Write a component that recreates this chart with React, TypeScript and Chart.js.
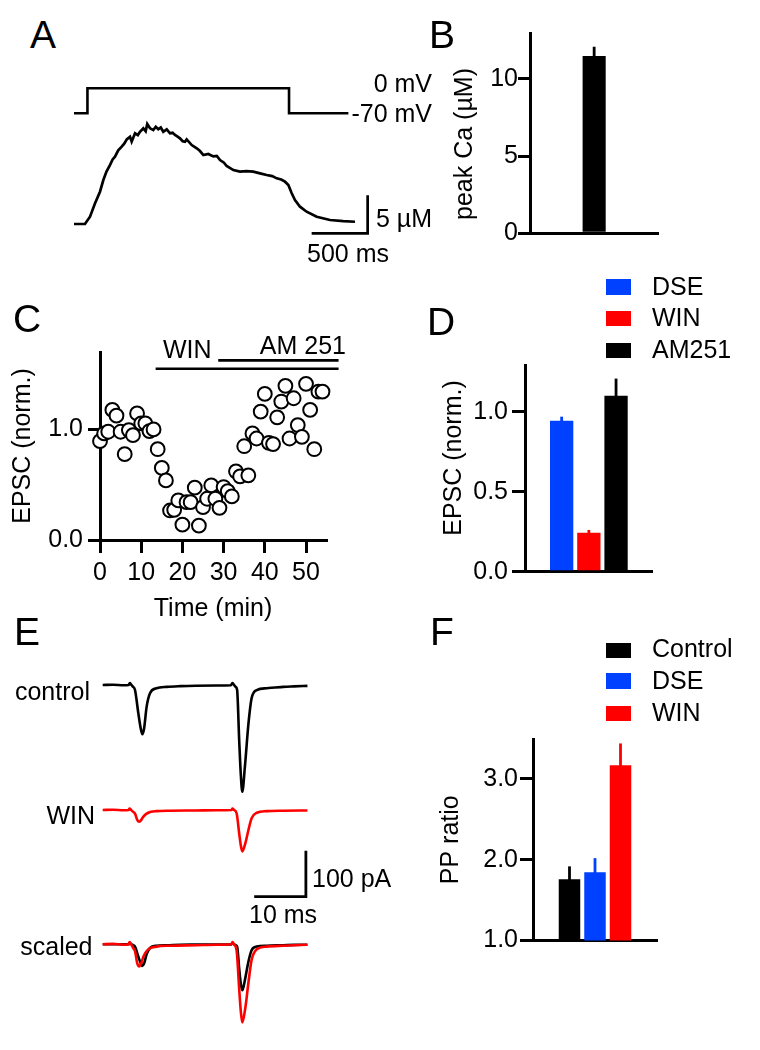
import React, { useEffect, useRef } from 'react';
import { Chart, registerables } from 'chart.js';

Chart.register(...registerables);

const FONT_FAMILY = '"Liberation Sans", Arial, Helvetica, sans-serif';
Chart.defaults.font.family = FONT_FAMILY;
Chart.defaults.font.size = 25;
Chart.defaults.color = '#000';

const BLACK = '#000000';
const BLUE = 'rgb(0, 64, 255)';
const RED = 'rgb(255, 0, 0)';
const AXIS_W = 3;

// ---------------- Panel A : voltage step and Ca transient ----------------
const A_STEP_TIME_MS = [0, 120, 120, 1920, 1920, 2450];
const A_STEP_MV = [-70, -70, 0, 0, -70, -70];
const A_CA_TIME_MS = [
  0, 98, 143, 188, 232, 262, 290, 321, 345, 366,
  395, 426, 450, 471, 500, 515, 545, 570, 589, 619,
  640, 654, 679, 708, 730, 753, 775, 797, 828, 857,
  880, 902, 925, 946, 970, 991, 1006, 1051, 1096, 1125,
  1155, 1199, 1244, 1275, 1304, 1339, 1363, 1423, 1482, 1540,
  1601, 1661, 1720, 1770, 1810, 1850, 1884, 1914, 1944, 1973,
  2018, 2077, 2167, 2286, 2404, 2509,
];
const A_CA_UM = [
  0, 0, 0.96, 2.72, 4.25, 5.79, 6.9, 7.76, 8.5, 8.86,
  9.7, 10.17, 10.6, 11.14, 11.49, 10.83, 11.93, 11.7, 12.14, 12.59,
  12.2, 13.16, 12.59, 12.37, 12.8, 12.46, 12.7, 12.14, 12.46, 11.93,
  12.0, 11.71, 11.5, 11.28, 10.9, 10.83, 11.14, 10.39, 9.96, 9.6,
  9.08, 9.21, 8.9, 8.95, 8.42, 8.07, 7.63, 7.1, 6.89, 6.95,
  6.89, 6.67, 6.45, 6.3, 6.01, 5.85, 5.57, 5.13, 4.04, 3.16,
  2.28, 1.62, 0.96, 0.53, 0.39, 0.3,
];
const A_BAR_MS = 500;
const A_BAR_UM = 5;
const A_BAR_END_MS = 2622;
const A_BAR_BASE_UM = -1.22;

// ---------------- Panel B : peak Ca ----------------
const B_LABELS = ['peak Ca'];
const B_VALUES = [11.49];
const B_ERRORS = [0.6];
const B_TICKS = [0, 5, 10];

// ---------------- Panel C : EPSC time course ----------------
const C_TIME_MIN = [
  0, 1, 2, 3, 4, 5, 6, 7, 8, 9,
  10, 11, 12, 13, 14, 15, 16, 17, 18, 19,
  20, 21, 22, 23, 24, 25, 26, 27, 28, 29,
  30, 31, 32, 33, 34, 35, 36, 37, 38, 39,
  40, 41, 42, 43, 44, 45, 46, 47, 48, 49,
  50, 51, 52, 53, 54,
];
const C_EPSC = [
  0.894, 0.964, 0.979, 1.176, 1.124, 0.979, 0.776, 0.994, 0.948, 1.145,
  1.055, 1.055, 0.985, 1.0, 0.821, 0.652, 0.539, 0.267, 0.273, 0.358,
  0.139, 0.342, 0.342, 0.473, 0.13, 0.297, 0.373, 0.494, 0.373, 0.291,
  0.479, 0.442, 0.394, 0.621, 0.576, 0.848, 0.585, 0.964, 0.918, 1.161,
  1.321, 0.879, 0.867, 1.109, 1.252, 1.394, 0.918, 1.282, 1.039, 0.933,
  1.412, 1.176, 0.821, 1.342, 1.342,
];
const C_BAR_LABELS = ['WIN', 'AM 251'];
const C_BAR_START = [13.5, 28.7];
const C_BAR_END = [57.9, 57.9];
const C_BAR_LEVEL = [1.549, 1.624];
const C_X_TICKS = [0, 10, 20, 30, 40, 50];
const C_Y_TICKS = [0, 1];

// ---------------- Panel D : EPSC bars ----------------
const D_LABELS = ['DSE', 'WIN', 'AM251'];
const D_VALUES = [0.944, 0.244, 1.1];
const D_ERRORS = [0.025, 0.017, 0.107];
const D_COLORS = [BLUE, RED, BLACK];
const D_TICKS = [0, 0.5, 1.0];

// ---------------- Panel E : EPSC traces ----------------
const E_CTRL_T = [
  0, 2, 4, 5.0, 5.25, 5.5, 5.8, 6.25, 6.9, 7.35,
  7.66, 8.0, 8.5, 9.15, 10.4, 12.4, 15, 18, 22, 24.8,
  25.07, 25.35, 25.7, 26.0, 26.4, 26.7, 27.0, 27.5, 28.2, 28.8,
  29.8, 31.7, 34.9, 37, 39.6,
];
const E_CTRL_PA = [
  0, 0.5, -0.5, 0, 4, 1, -3, -11, -62, -94,
  -107, -95, -47, -18, -7, -4, -2.5, -1.5, -1, -0.5,
  4, 1, -4, -11, -120, -192, -232, -178, -83, -29,
  -11, -7, -4, -3, -2,
];
const E_SCALED_CTRL_PA = [
  0, 0.2, -0.2, 0, 2, 0.5, -1.3, -5, -27, -41,
  -47, -42, -21, -8, -3, -2, -1, -0.7, -0.4, -0.2,
  2, 0.5, -2, -5, -53, -85, -100, -78, -37, -13,
  -5, -3, -2, -1.3, -1,
];
const E_WIN_T = [
  0, 2, 4, 5.0, 5.2, 5.5, 5.9, 6.25, 6.7, 7.08,
  7.5, 7.86, 8.8, 10.4, 13, 18, 22, 24.9, 25.1, 25.4,
  25.9, 26.4, 26.7, 27.0, 27.6, 28.2, 28.8, 29.8, 31.7, 35, 39.6,
];
const E_WIN_PA = [
  0, 0.5, -0.5, 0, 3, 0, -4, -8, -22, -25.5,
  -21, -14.5, -6, -2.5, -1.5, -1, -0.5, 0, 3, 0,
  -7, -51, -76, -90, -72, -43, -18, -6, -2.5, -1.5, -1,
];
const E_SCALED_WIN_PA = [
  0, 1, -1, 0, 5, 0, -8, -15, -42, -48,
  -40, -27, -11, -5, -3, -2, -1, 0, 5, 0,
  -13, -97, -144, -170, -137, -82, -34, -11, -5, -3, -1,
];
const E_BAR_MS = 10;
const E_BAR_PA = 100;
const E_BAR_END_MS = 39.3;
const E_BAR_BASE_PA = -188.5;

// ---------------- Panel F : paired-pulse ratio ----------------
const F_LABELS = ['Control', 'DSE', 'WIN'];
const F_VALUES = [1.758, 1.845, 3.17];
const F_ERRORS = [0.16, 0.175, 0.27];
const F_COLORS = [BLACK, BLUE, RED];
const F_TICKS = [1, 2, 3];

// ------------------------------------------------------------------------
const tickFont = { size: 25, family: FONT_FAMILY };

const errorBarPlugin = {
  id: 'errorBars',
  afterDatasetsDraw(chart: any) {
    const ctx = chart.ctx;
    chart.data.datasets.forEach((ds: any, i: number) => {
      if (!ds.errors) return;
      const meta = chart.getDatasetMeta(i);
      const yScale = chart.scales[meta.yAxisID];
      meta.data.forEach((bar: any, j: number) => {
        const v = ds.data[j];
        const e = ds.errors[j];
        const yTop = yScale.getPixelForValue(v + e);
        ctx.save();
        ctx.strokeStyle = ds.backgroundColor;
        ctx.lineWidth = 2.8;
        ctx.beginPath();
        ctx.moveTo(bar.x, bar.y + 1);
        ctx.lineTo(bar.x, yTop);
        ctx.stroke();
        ctx.restore();
      });
    });
  },
};

function leftAxis(p: {
  min: number; max: number; ticks: number[]; fmt: (v: number) => string;
  width: number; tickLen: number; pad: number; title?: any;
}) {
  return {
    type: 'linear',
    position: 'left',
    min: p.min,
    max: p.max,
    afterFit: (s: any) => { s.width = p.width; s.paddingTop = 0; s.paddingBottom = 0; },
    afterBuildTicks: (s: any) => { s.ticks = p.ticks.map((v) => ({ value: v })); },
    ticks: { padding: p.pad, color: BLACK, font: tickFont, autoSkip: false, callback: (v: any) => p.fmt(Number(v)) },
    grid: {
      display: true, drawOnChartArea: false, drawTicks: true, tickLength: p.tickLen,
      tickWidth: AXIS_W, tickColor: BLACK, lineWidth: AXIS_W, color: BLACK,
    },
    border: { display: true, color: BLACK, width: AXIS_W },
    title: p.title || { display: false },
  };
}

function categoryAxis(height: number) {
  return {
    type: 'category',
    position: 'bottom',
    offset: true,
    afterFit: (s: any) => { s.height = height; s.paddingLeft = 0; s.paddingRight = 0; },
    ticks: { display: false },
    grid: { display: false },
    border: { display: true, color: BLACK, width: AXIS_W },
  };
}

const baseOptions = {
  responsive: false,
  animation: false,
  events: [],
  plugins: { legend: { display: false }, tooltip: { enabled: false } },
};

function configA() {
  return {
    type: 'line',
    data: {
      datasets: [
        {
          data: A_STEP_TIME_MS.map((x, i) => ({ x, y: A_STEP_MV[i] })),
          yAxisID: 'yV', borderColor: BLACK, borderWidth: 2.6, pointRadius: 0,
          borderJoinStyle: 'miter', tension: 0,
        },
        {
          data: A_CA_TIME_MS.map((x, i) => ({ x, y: A_CA_UM[i] })),
          yAxisID: 'yCa', borderColor: BLACK, borderWidth: 2.7, pointRadius: 0, tension: 0,
        },
        {
          data: [
            { x: A_BAR_END_MS - A_BAR_MS, y: A_BAR_BASE_UM },
            { x: A_BAR_END_MS, y: A_BAR_BASE_UM },
            { x: A_BAR_END_MS, y: A_BAR_BASE_UM + A_BAR_UM },
          ],
          yAxisID: 'yCa', borderColor: BLACK, borderWidth: 2.7, pointRadius: 0,
          borderJoinStyle: 'miter', tension: 0,
        },
      ],
    },
    options: {
      ...baseOptions,
      layout: { padding: 0, autoPadding: false },
      scales: {
        x: { type: 'linear', display: false, min: -125, max: 3268 },
        yCa: { type: 'linear', display: false, min: -6.05, max: 21.58 },
        yV: { type: 'linear', display: false, min: -508.8, max: 79.2 },
      },
    },
  };
}

function configB() {
  return {
    type: 'bar',
    data: {
      labels: B_LABELS,
      datasets: [
        {
          label: 'peak Ca', data: B_VALUES, errors: B_ERRORS, backgroundColor: BLACK,
          borderWidth: 0, categoryPercentage: 0.9, barPercentage: 0.2,
        },
      ],
    },
    options: {
      ...baseOptions,
      layout: { padding: { top: 23.3, right: 41.7, left: 0, bottom: 0 }, autoPadding: false },
      scales: {
        x: categoryAxis(16.7),
        y: leftAxis({ min: 0, max: 12.96, ticks: B_TICKS, fmt: (v) => String(v), width: 90, tickLen: 12, pad: 0 }),
      },
    },
    plugins: [errorBarPlugin],
  };
}

function configC() {
  const bars = C_BAR_LABELS.map((label, i) => ({
    type: 'line',
    label,
    data: [
      { x: C_BAR_START[i], y: C_BAR_LEVEL[i] },
      { x: C_BAR_END[i], y: C_BAR_LEVEL[i] },
    ],
    showLine: true, borderColor: BLACK, borderWidth: 2.6, pointRadius: 0, clip: false,
  }));
  return {
    type: 'scatter',
    data: {
      datasets: [
        ...bars,
        {
          label: 'EPSC',
          data: C_TIME_MIN.map((x, i) => ({ x, y: C_EPSC[i] })),
          pointRadius: 6.9, borderWidth: 2, backgroundColor: '#ffffff', borderColor: BLACK, clip: false,
        },
      ],
    },
    options: {
      ...baseOptions,
      layout: { padding: { top: 22, right: 54, left: 0, bottom: 0 }, autoPadding: false },
      scales: {
        x: {
          type: 'linear', position: 'bottom', min: 0, max: 54.85,
          afterFit: (s: any) => { s.height = 90; s.paddingLeft = 0; s.paddingRight = 0; },
          afterBuildTicks: (s: any) => { s.ticks = C_X_TICKS.map((v) => ({ value: v })); },
          ticks: { padding: 5, color: BLACK, font: tickFont, maxRotation: 0, autoSkip: false, callback: (v: any) => String(v) },
          grid: {
            display: true, drawOnChartArea: false, drawTicks: true, tickLength: 13,
            tickWidth: AXIS_W, tickColor: BLACK, lineWidth: AXIS_W, color: BLACK,
          },
          border: { display: true, color: BLACK, width: AXIS_W },
          title: { display: true, text: 'Time (min)', color: BLACK, font: tickFont, padding: { top: 0, bottom: 5.5 } },
        },
        y: leftAxis({
          min: 0, max: 1.7, ticks: C_Y_TICKS, fmt: (v) => v.toFixed(1), width: 100, tickLen: 12, pad: 5,
          title: { display: true, text: 'EPSC (norm.)', color: BLACK, font: tickFont, padding: { top: 8, bottom: 0 } },
        }),
      },
    },
  };
}

function configD() {
  return {
    type: 'bar',
    data: {
      labels: [''],
      datasets: D_LABELS.map((label, i) => ({
        label, data: [D_VALUES[i]], errors: [D_ERRORS[i]], backgroundColor: D_COLORS[i],
        borderWidth: 0, categoryPercentage: 0.639, barPercentage: 0.857,
      })),
    },
    options: {
      ...baseOptions,
      layout: { padding: { top: 20, right: 57.3, left: 0, bottom: 0 }, autoPadding: false },
      scales: {
        x: categoryAxis(23.3),
        y: leftAxis({ min: 0, max: 1.292, ticks: D_TICKS, fmt: (v) => v.toFixed(1), width: 95, tickLen: 13, pad: 4 }),
      },
    },
    plugins: [errorBarPlugin],
  };
}

function configE() {
  const trace = (t: number[], v: number[], axis: string, color: string) => ({
    data: t.map((x, i) => ({ x, y: v[i] })),
    yAxisID: axis, borderColor: color, borderWidth: 2.6, pointRadius: 0,
    cubicInterpolationMode: 'monotone',
  });
  // Chart.js paints datasets from last to first: the scaled WIN trace (red)
  // is listed before the scaled control so that it ends up on top.
  return {
    type: 'line',
    data: {
      datasets: [
        trace(E_CTRL_T, E_CTRL_PA, 'yCtrl', BLACK),
        trace(E_WIN_T, E_WIN_PA, 'yWin', RED),
        trace(E_WIN_T, E_SCALED_WIN_PA, 'yScaled', RED),
        trace(E_CTRL_T, E_SCALED_CTRL_PA, 'yScaled', BLACK),
        {
          data: [
            { x: E_BAR_END_MS - E_BAR_MS, y: E_BAR_BASE_PA },
            { x: E_BAR_END_MS, y: E_BAR_BASE_PA },
            { x: E_BAR_END_MS, y: E_BAR_BASE_PA + E_BAR_PA },
          ],
          yAxisID: 'yWin', borderColor: BLACK, borderWidth: 2.8, pointRadius: 0,
          borderJoinStyle: 'miter', tension: 0,
        },
      ],
    },
    options: {
      ...baseOptions,
      layout: { padding: 0, autoPadding: false },
      scales: {
        x: { type: 'linear', display: false, min: -2.456, max: 65.24 },
        yCtrl: { type: 'linear', display: false, min: -771.7, max: 54.35 },
        yWin: { type: 'linear', display: false, min: -500, max: 326.1 },
        yScaled: { type: 'linear', display: false, min: -208, max: 618 },
      },
    },
  };
}

function configF() {
  return {
    type: 'bar',
    data: {
      labels: [''],
      datasets: F_LABELS.map((label, i) => ({
        label, data: [F_VALUES[i]], errors: [F_ERRORS[i]], backgroundColor: F_COLORS[i],
        borderWidth: 0, categoryPercentage: 0.617, barPercentage: 0.843,
      })),
    },
    options: {
      ...baseOptions,
      layout: { padding: { top: 14, right: 53, left: 0, bottom: 0 }, autoPadding: false },
      scales: {
        x: categoryAxis(29.5),
        y: leftAxis({
          min: 1, max: 3.495, ticks: F_TICKS, fmt: (v) => v.toFixed(1), width: 103, tickLen: 13, pad: 2,
          title: { display: true, text: 'PP ratio', color: BLACK, font: tickFont, padding: { top: 6.3, bottom: 0 } },
        }),
      },
    },
    plugins: [errorBarPlugin],
  };
}

type Box = { left: number; top: number; width: number; height: number };

function ChartCanvas({ box, makeConfig }: { box: Box; makeConfig: () => any }) {
  const ref = useRef<HTMLCanvasElement>(null);
  useEffect(() => {
    if (!ref.current) return;
    const chart = new Chart(ref.current, makeConfig());
    return () => chart.destroy();
  }, []);
  return (
    <canvas
      ref={ref}
      width={box.width}
      height={box.height}
      style={{ position: 'absolute', left: box.left, top: box.top, width: box.width, height: box.height }}
    />
  );
}

function Text({ text, x, base, size = 25, align = 'left' }: {
  text: string; x: number; base: number; size?: number; align?: string;
}) {
  const tx = align === 'right' ? 'translateX(-100%)' : align === 'center' ? 'translateX(-50%)' : 'none';
  return (
    <div
      style={{
        position: 'absolute', left: x, top: base - 0.8465 * size, fontSize: size,
        lineHeight: `${size}px`, height: size, whiteSpace: 'nowrap', transform: tx,
        fontFamily: FONT_FAMILY, color: BLACK,
      }}
    >
      {text}
    </div>
  );
}

function VText({ text, cx, cy, size = 25 }: { text: string; cx: number; cy: number; size?: number }) {
  return (
    <div
      style={{
        position: 'absolute', left: cx, top: cy, fontSize: size, lineHeight: `${size}px`,
        whiteSpace: 'nowrap', transform: 'translate(-50%, -50%) rotate(-90deg)',
        fontFamily: FONT_FAMILY, color: BLACK,
      }}
    >
      {text}
    </div>
  );
}

function Legend({ labels, colors, boxTops, bases, textLeft }: {
  labels: string[]; colors: string[]; boxTops: number[]; bases: number[]; textLeft: number;
}) {
  return (
    <>
      {labels.map((l, i) => (
        <React.Fragment key={l}>
          <div style={{ position: 'absolute', left: 606, top: boxTops[i], width: 24.7, height: 15.5, background: colors[i] }} />
          <Text text={l} x={textLeft} base={bases[i]} />
        </React.Fragment>
      ))}
    </>
  );
}

const BOX_A: Box = { left: 60, top: 60, width: 380, height: 210 };
const BOX_B: Box = { left: 440, top: 10, width: 260, height: 240 };
const BOX_C: Box = { left: 0, top: 330, width: 380, height: 300 };
const BOX_D: Box = { left: 430, top: 345, width: 280, height: 250 };
const BOX_E: Box = { left: 90, top: 660, width: 350, height: 380 };
const BOX_F: Box = { left: 430, top: 725, width: 280, height: 245 };

export default function App() {
  return (
    <div
      style={{
        position: 'absolute', left: 0, top: 0, width: 760, height: 1050, background: '#fff',
        fontFamily: FONT_FAMILY, overflow: 'hidden',
      }}
    >
      <ChartCanvas box={BOX_A} makeConfig={configA} />
      <ChartCanvas box={BOX_B} makeConfig={configB} />
      <ChartCanvas box={BOX_C} makeConfig={configC} />
      <ChartCanvas box={BOX_D} makeConfig={configD} />
      <ChartCanvas box={BOX_E} makeConfig={configE} />
      <ChartCanvas box={BOX_F} makeConfig={configF} />

      <Text text="A" x={30} base={48} size={39} />
      <Text text="B" x={429} base={48} size={39} />
      <Text text="C" x={13} base={332} size={39} />
      <Text text="D" x={427} base={335} size={39} />
      <Text text="E" x={14} base={645} size={39} />
      <Text text="F" x={430} base={645} size={39} />

      <Text text="0 mV" x={432} base={91.7} align="right" />
      <Text text="-70 mV" x={432} base={121.7} align="right" />
      <Text text="5 µM" x={376} base={226.7} />
      <Text text="500 ms" x={307} base={262} />

      <VText text="peak Ca (µM)" cx={463.3} cy={144.2} />
      <VText text="EPSC (norm.)" cx={452.3} cy={458.3} />

      <Text text={C_BAR_LABELS[0]} x={163} base={358.3} />
      <Text text={C_BAR_LABELS[1]} x={346} base={354.3} align="right" />

      <Legend labels={D_LABELS} colors={D_COLORS} boxTops={[279.3, 310.7, 342.7]} bases={[295, 326, 358.3]} textLeft={652} />
      <Legend labels={F_LABELS} colors={F_COLORS} boxTops={[642.7, 673.3, 705.5]} bases={[657.3, 689.3, 720.7]} textLeft={652} />

      <Text text="control" x={90} base={700} align="right" />
      <Text text="WIN" x={95} base={824} align="right" />
      <Text text="scaled" x={92.5} base={955} align="right" />
      <Text text="100 pA" x={312} base={886.7} />
      <Text text="10 ms" x={249} base={923.3} />
    </div>
  );
}
